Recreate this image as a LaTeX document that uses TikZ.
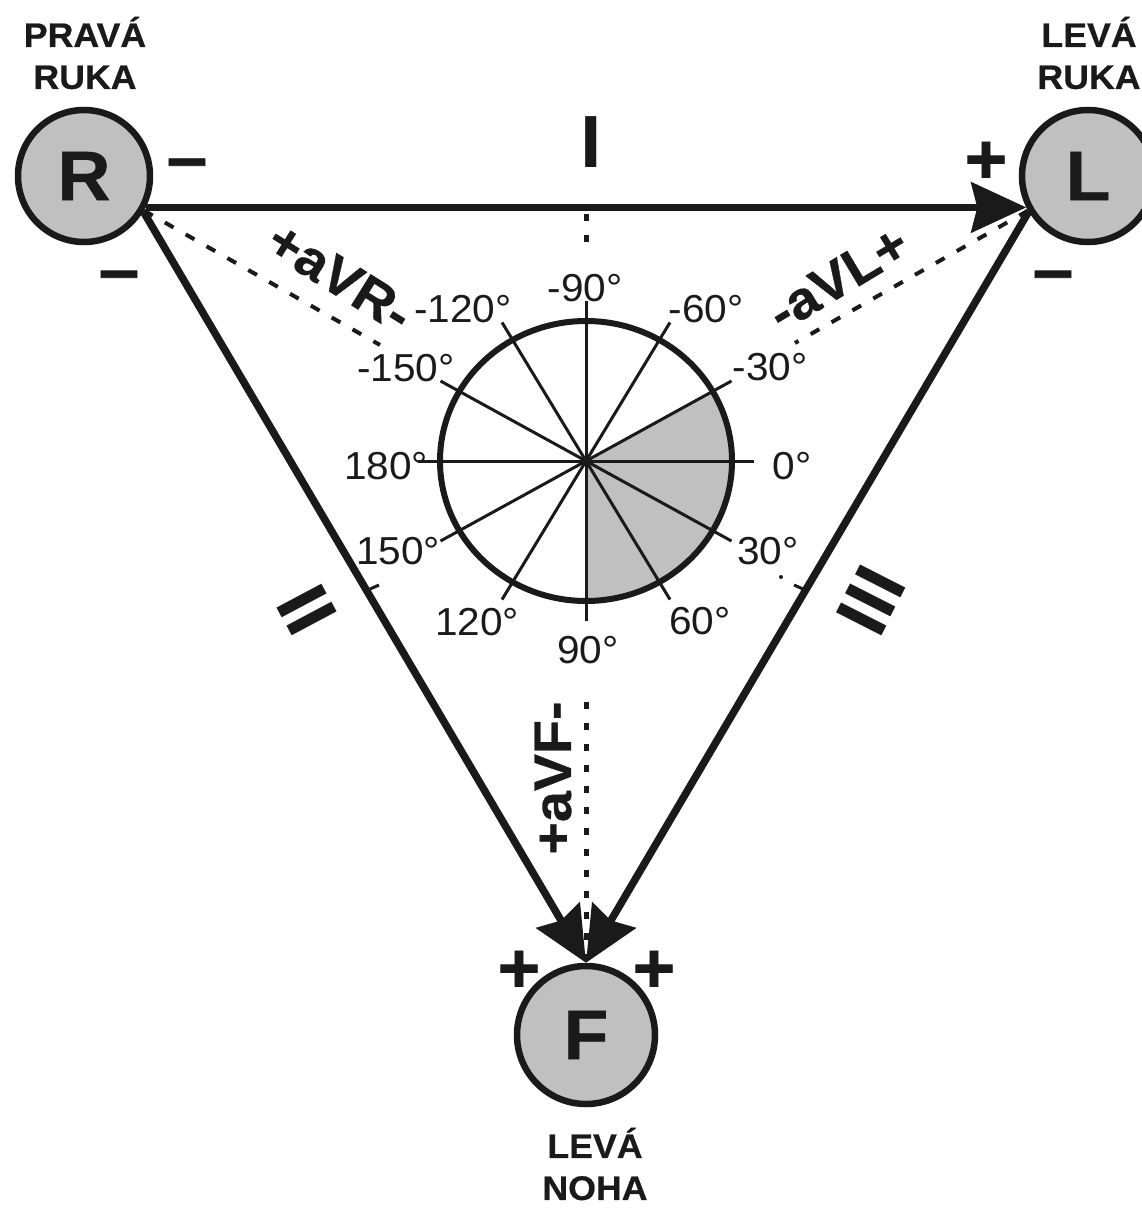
\documentclass[tikz,border=0pt]{standalone}
\usepackage{fontspec}
\setmainfont{Liberation Sans}[FakeStretch=1.04]
\newfontfamily\heavy{Liberation Sans}[FakeStretch=1.04, BoldFeatures={FakeBold=1.2}]
\newfontfamily\semiheavy{Liberation Sans}[FakeStretch=1.05, BoldFeatures={FakeBold=0.6}]
\usetikzlibrary{arrows.meta}
\definecolor{ink}{HTML}{1A1A1A}
\definecolor{wgray}{HTML}{C0C0C0}
\tikzset{
  lead/.style={draw=ink, line width=7.5pt},
  tipbig/.style={-{Stealth[length=55pt,width=50pt,inset=6pt]}},
  electrode/.style={circle, draw=ink, fill=wgray, line width=6.5pt, inner sep=0pt, text=ink,
    font=\semiheavy\bfseries\fontsize{70}{70}\selectfont},
  deg/.style={font=\fontsize{39}{39}\selectfont, inner sep=0pt, text=ink},
  place/.style={font=\semiheavy\bfseries\fontsize{34}{42}\selectfont, align=center, inner sep=0pt, text=ink},
  sign/.style={font=\heavy\bfseries\fontsize{70}{70}\selectfont, inner sep=0pt, text=ink, anchor=base},
  aug/.style={font=\semiheavy\bfseries\fontsize{53}{53}\selectfont, inner sep=0pt, text=ink},
  leadname/.style={font=\bfseries\fontsize{74}{74}\selectfont, inner sep=0pt, text=ink},
  dashline/.style={draw=ink, line width=4pt, dash pattern=on 10pt off 14pt},
  dotline/.style={draw=ink, line width=5pt, dash pattern=on 7pt off 14pt},
  spoke/.style={draw=ink, line width=3pt},
  rim/.style={draw=ink, line width=6pt},
  tick/.style={draw=ink, line width=3pt},
}
\begin{document}
\begin{tikzpicture}[x=1pt,y=-1pt]
\useasboundingbox (0,0) rectangle (1142,1209);

% electrodes
\node[electrode, minimum size=132pt] (R) at (84,176) {R};
\node[electrode, minimum size=132pt] (L) at (1088,176) {L};
\node[electrode, minimum size=138pt] (F) at (586,1035) {F};

\node[place] (pr) at (85,53) {PRAVÁ\\RUKA};
\node[place] (lr) at (1089,53) {LEVÁ\\RUKA};
\node[place] (ln) at (595,1164) {LEVÁ\\NOHA};

% wheel
\coordinate (C) at (586,461);
\fill[wgray] (C) -- ([shift={(-30:146 and 140)}]C) arc[start angle=-30, end angle=90, x radius=146, y radius=140] -- cycle;
\foreach \a in {0,30,...,150}
  \draw[spoke] ([shift={(\a:168 and 160)}]C) -- ([shift={(\a+180:168 and 160)}]C);
\draw[rim] (C) ellipse[x radius=146, y radius=140];

\node[deg] (d-90) at (585,288) {-90°};
\node[deg] (d-120) at (463,309) {-120°};
\node[deg] (d-60) at (706,309) {-60°};
\node[deg] (d-150) at (406,368) {-150°};
\node[deg] (d-30) at (770,367) {-30°};
\node[deg] (d180) at (386,466) {180°};
\node[deg] (d0) at (792,466) {0°};
\node[deg] (d150) at (398,551) {150°};
\node[deg] (d30) at (768,551) {30°};
\node[deg] (d120) at (477,622) {120°};
\node[deg] (d60) at (700,621) {60°};
\node[deg] (d90) at (588,650) {90°};

% augmented leads (dashed)
\coordinate (aVRend) at (380,345);
\coordinate (aVLend) at (795,343);
\coordinate (aVFtop) at (586,702);
\coordinate (Itop) at (586,214);
\coordinate (Ibot) at (586,250);
\draw[dashline] (R.-30) -- (aVRend);
\draw[dashline] (L.210) -- (aVLend);
\draw[dotline] (aVFtop) -- (F.90);
\draw[dotline] (Itop) -- (Ibot);

% small remnants of the 150 and 30 degree extensions
\draw[tick] (370,589) -- (379,585);
\draw[tick] (794,585) -- (803,589);
\fill[ink] (781,577) circle (2pt);

% bipolar leads
\draw[lead, tipbig] (R.-27) -- (L.207);
\draw[lead, tipbig] (R.-31) -- (F.90);
\draw[lead, tipbig] (L.211) -- (F.90);

% labels
\node[aug, rotate=-32] (aVR) at (340,277) {+aVR-};
\node[aug, rotate=31] (aVL) at (838,278) {-aVL+};
\node[aug, rotate=90] (aVF) at (553,778) {+aVF-};

\node[leadname] (I) at (591,142) {I};
\node[leadname, rotate=-62] (II) at (307,610) {II};
\node[leadname, rotate=63] (III) at (871,600) {III};

% polarity signs
\node[sign] (sR1) at (187,181) {–};
\node[sign] (sR2) at (119,293) {–};
\node[sign] (sL1) at (986,183) {+};
\node[sign] (sL2) at (1053,293) {–};
\node[sign] (sF1) at (519,992) {+};
\node[sign] (sF2) at (654,992) {+};
\end{tikzpicture}
\end{document}
